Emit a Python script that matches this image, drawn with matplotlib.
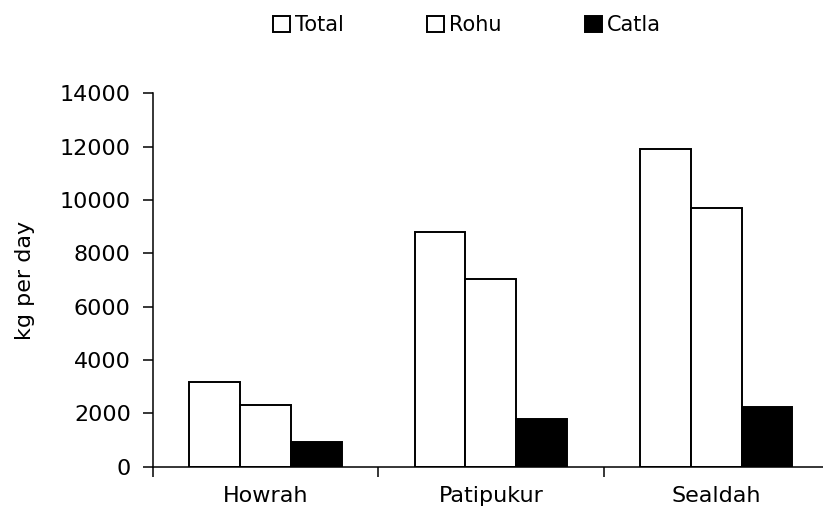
import matplotlib
matplotlib.use("Agg")
import matplotlib.pyplot as plt
import numpy as np

plt.rcParams['font.family'] = ['DejaVu Sans']

markets = ['Howrah', 'Patipukur', 'Sealdah']
total = [3170, 8800, 11900]
rohu = [2300, 7050, 9700]
catla = [920, 1800, 2250]

series = [('Total', total, 'white'), ('Rohu', rohu, 'white'), ('Catla', catla, 'black')]

fig = plt.figure(figsize=(8.23, 5.2), dpi=100)
ax = fig.add_axes([0.186, 0.1025, 0.821, 0.718])

x = np.arange(len(markets))
w = 0.226
for i, (name, vals, col) in enumerate(series):
    ax.bar(x + (i - 1) * w, vals, w, color=col, edgecolor='black',
           linewidth=1.4, label=name)

ax.set_xlim(-0.5, 2.5)
ax.set_ylim(0, 14000)
ax.set_yticks(range(0, 14001, 2000))
ax.tick_params(axis='y', direction='out', length=7, width=1.1, pad=9, labelsize=16)

# group labels sit in the middle, ticks mark the boundaries
ax.set_xticks(x)
ax.set_xticklabels(markets, fontsize=16)
ax.tick_params(axis='x', which='major', length=0, pad=14)
ax.set_xticks([-0.5, 0.5, 1.5], minor=True)
ax.tick_params(axis='x', which='minor', direction='out', length=7, width=1.1)

for s in ['top', 'right']:
    ax.spines[s].set_visible(False)
for s in ['left', 'bottom']:
    ax.spines[s].set_linewidth(1.1)

ax.set_ylabel('kg per day', fontsize=16, labelpad=18)

fig.legend(loc='center', bbox_to_anchor=(0.5675, 0.952), ncol=3, frameon=False,
           fontsize=15, handlelength=0.8, handleheight=0.8, handletextpad=0.25,
           columnspacing=4.0)

fig.savefig('out.png', dpi=100)
